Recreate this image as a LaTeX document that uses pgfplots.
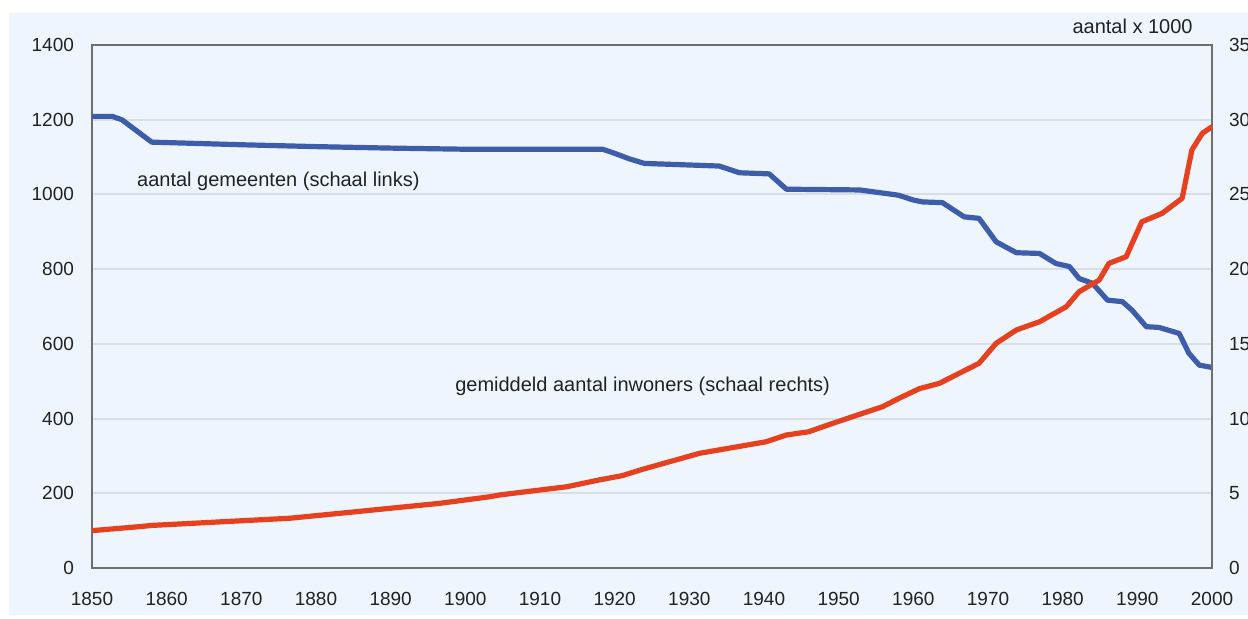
\documentclass[border=0pt]{standalone}
\usepackage{fontspec}
\setmainfont{Liberation Sans}
\usepackage{pgfplots}
\pgfplotsset{compat=1.18}
\definecolor{panel}{HTML}{EEF5FC}
\definecolor{gridc}{HTML}{D9DEE4}
\definecolor{framec}{HTML}{6E6E6E}
\definecolor{bluel}{HTML}{3D5DAA}
\definecolor{redl}{HTML}{E6401E}
\definecolor{txt}{HTML}{222222}
\begin{document}
\begin{tikzpicture}
\path[use as bounding box] (0,0) rectangle (624pt,309pt);
\fill[panel] (4.5pt,1.5pt) rectangle (624pt,302.5pt);
\begin{axis}[
  name=main,
  at={(46pt,25pt)}, anchor=south west, scale only axis,
  width=560pt, height=261.5pt,
  xmin=1850, xmax=2000, ymin=0, ymax=1400,
  xtick={1850,1860,...,2000}, ytick={0,200,...,1400},
  major tick length=0pt,
  axis line style={framec, line width=1pt},
  ymajorgrids, grid style={gridc, line width=1pt},
  /pgf/number format/.cd, 1000 sep={}, assume math mode=true,
  /pgfplots/.cd,
  ticklabel style={font=\fontsize{9.5}{11}\selectfont, text=txt},
  xticklabel style={yshift=-8.5pt},
  yticklabel style={xshift=-5.5pt},
]
\addplot[bluel, line width=2.6pt, line join=round] coordinates {
(1850,1209) (1852.7,1209) (1854,1200) (1856,1170) (1858,1140) (1870,1133)
(1880,1128) (1890,1124) (1900,1121) (1918.4,1121) (1920,1110) (1922,1095)
(1924,1083) (1934,1076) (1936.7,1058) (1940.7,1055) (1943,1014) (1952.8,1012)
(1958,998) (1960,985) (1961.2,980) (1963.9,978) (1966.8,940) (1968.8,936)
(1971.1,873) (1973.8,844) (1976.9,842) (1979.1,815) (1980.9,807) (1982.2,775)
(1984,762) (1986,717) (1988,713) (1989.3,690) (1991.2,646) (1992.9,644)
(1995.6,628) (1996.9,575) (1998.3,543) (2000,537)
};
\node[anchor=west, inner sep=0pt, text=txt, font=\fontsize{10}{12}\selectfont] at (axis cs:1856,1036) {aantal gemeenten (schaal links)};
\node[anchor=west, inner sep=0pt, text=txt, font=\fontsize{10}{12}\selectfont] at (axis cs:1898.6,487) {gemiddeld aantal inwoners (schaal rechts)};
\end{axis}
\begin{axis}[
  at={(46pt,25pt)}, anchor=south west, scale only axis,
  width=560pt, height=261.5pt,
  xmin=1850, xmax=2000, ymin=0, ymax=35,
  ytick={0,5,...,35},
  hide x axis, axis y line*=right,
  major tick length=0pt,
  axis line style={framec, line width=1pt},
  /pgf/number format/.cd, assume math mode=true,
  /pgfplots/.cd,
  ticklabel style={font=\fontsize{9.5}{11}\selectfont, text=txt},
  yticklabel style={xshift=5pt},
]
\addplot[redl, line width=2.6pt, line join=round] coordinates {
(1850,2.5) (1856.4,2.77) (1858,2.85) (1876.5,3.33) (1885,3.75) (1896.6,4.33)
(1903.3,4.77) (1904.6,4.89) (1913.6,5.44) (1918,5.9) (1921,6.18) (1923.7,6.6)
(1931.4,7.68) (1940.3,8.45) (1943,8.9) (1946,9.12) (1949.2,9.68) (1955.9,10.8)
(1958.1,11.36) (1960.8,12.0) (1963.5,12.36) (1968.8,13.7) (1971.1,15.04)
(1973.8,15.93) (1976.9,16.48) (1980.5,17.49) (1982.2,18.49) (1984.9,19.27)
(1986.2,20.39) (1988.5,20.83) (1990.6,23.17) (1993.3,23.73) (1996,24.74)
(1997.3,27.97) (1998.7,29.09) (2000,29.53)
};
\end{axis}
\node[anchor=east, inner sep=0pt, text=txt, font=\fontsize{10}{12}\selectfont, xshift=-9.5pt, yshift=9.5pt] at (main.north east) {aantal x 1000};
\end{tikzpicture}
\end{document}
